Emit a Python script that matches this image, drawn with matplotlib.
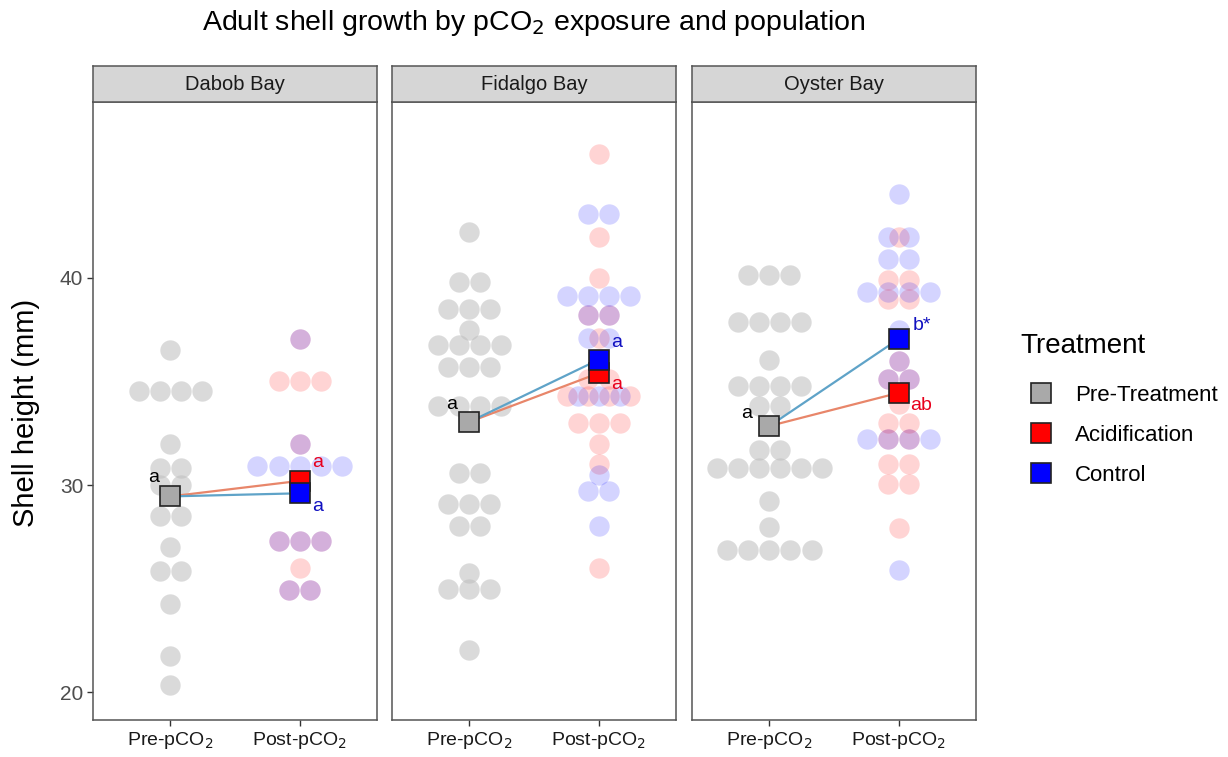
import numpy as np
import matplotlib.pyplot as plt
from matplotlib.lines import Line2D

plt.rcParams['font.family'] = ['Liberation Sans', 'DejaVu Sans']

populations = ['Dabob Bay', 'Fidalgo Bay', 'Oyster Bay']
timepoints = ['Pre-pCO$_2$', 'Post-pCO$_2$']
treatments = ['Pre-Treatment', 'Acidification', 'Control']

dabob_pre = [36.5, 34.55, 34.55, 34.55, 34.55, 32.0, 30.8, 30.8, 30.0, 30.0,
             28.5, 28.5, 27.0, 25.85, 25.85, 24.25, 21.75, 20.35]
dabob_acid = [37.05, 35.0, 35.0, 35.0, 32.0, 27.3, 27.3, 27.3, 26.0, 24.95, 24.95]
dabob_ctrl = [37.05, 32.0, 30.9, 30.9, 30.9, 30.9, 30.9, 27.3, 27.3, 27.3,
              24.95, 24.95]

fidalgo_pre = [42.2, 39.8, 39.8, 38.5, 38.5, 38.5, 37.5, 36.75, 36.75, 36.75,
               36.75, 35.7, 35.7, 35.7, 33.8, 33.8, 33.8, 33.8, 30.6, 30.6,
               29.1, 29.1, 29.1, 28.0, 28.0, 25.75, 25.0, 25.0, 25.0, 22.05]
fidalgo_acid = [46.0, 42.0, 40.0, 38.2, 38.2, 37.1, 35.1, 35.1, 34.3, 34.3,
                34.3, 34.3, 33.0, 33.0, 33.0, 32.0, 31.0, 26.0]
fidalgo_ctrl = [43.1, 43.1, 39.15, 39.15, 39.15, 39.15, 38.2, 38.2, 37.1, 37.1,
                34.3, 34.3, 34.3, 30.5, 29.7, 29.7, 28.0]

oyster_pre = [40.15, 40.15, 40.15, 37.85, 37.85, 37.85, 37.85, 36.05, 34.8, 34.8,
              34.8, 34.8, 33.8, 33.8, 31.7, 31.7, 30.8, 30.8, 30.8, 30.8,
              30.8, 30.8, 29.25, 27.95, 26.85, 26.85, 26.85, 26.85, 26.85]
oyster_acid = [42.0, 39.9, 39.9, 39.0, 39.0, 36.0, 35.1, 35.1, 33.9, 33.0,
               33.0, 32.2, 32.2, 31.0, 31.0, 30.05, 30.05, 27.9]
oyster_ctrl = [44.05, 42.0, 42.0, 40.9, 40.9, 39.3, 39.3, 39.3, 39.3, 37.5,
               36.0, 35.1, 35.1, 32.2, 32.2, 32.2, 32.2, 25.9]

pre_values = [dabob_pre, fidalgo_pre, oyster_pre]
acid_values = [dabob_acid, fidalgo_acid, oyster_acid]
ctrl_values = [dabob_ctrl, fidalgo_ctrl, oyster_ctrl]

# group means (squares)
pre_means = [29.45, 33.05, 32.85]
acid_means = [30.2, 35.4, 34.45]
ctrl_means = [29.6, 36.05, 37.05]

# significance letters
pre_letters = ['a', 'a', 'a']
acid_letters = ['a', 'a', 'ab']
ctrl_letters = ['a', 'a', 'b*']

# pixel offsets of the letters from their squares
pre_off = [(-17, 19), (-18, 17), (-23, 13)]
acid_off = [(13, 18), (13, -11), (12, -13)]
ctrl_off = [(13, -13), (13, 17), (14, 14)]

W, H = 1228, 757
lefts = [93, 392, 692]
pw = 284

fill = {'Pre-Treatment': '#a9a9a9', 'Acidification': '#ff0000', 'Control': '#0000ff'}


def dotplot(ax, values, xpos, color, alpha, step=0.163):
    # stack equal values side by side, centred on xpos
    levels, counts = np.unique(values, return_counts=True)
    for y, n in zip(levels, counts):
        xs = xpos + (np.arange(n) - (n - 1) / 2) * step
        ax.scatter(xs, np.full(n, y), s=215, color=color, alpha=alpha,
                   linewidths=0, zorder=2)


fig = plt.figure(figsize=(W / 100, H / 100), dpi=100)

for i, pop in enumerate(populations):
    ax = fig.add_axes([lefts[i] / W, 1 - 720 / H, pw / W, 618 / H])
    strip = fig.add_axes([lefts[i] / W, 1 - 102 / H, pw / W, 36 / H])

    dotplot(ax, pre_values[i], 1, '#bdbdbd', 0.55)
    dotplot(ax, acid_values[i], 2, '#ff0000', 0.17)
    dotplot(ax, ctrl_values[i], 2, '#0000ff', 0.17)

    # lines from pre mean to each post mean
    ax.plot([1, 2], [pre_means[i], acid_means[i]], color='#e8866a', lw=1.6, zorder=3)
    ax.plot([1, 2], [pre_means[i], ctrl_means[i]], color='#5fa3c8', lw=1.6, zorder=3)

    ax.plot(1, pre_means[i], 's', ms=15, mfc=fill['Pre-Treatment'], mec='#222222', mew=1.2, zorder=4)
    ax.plot(2, acid_means[i], 's', ms=15, mfc=fill['Acidification'], mec='#222222', mew=1.2, zorder=4)
    ax.plot(2, ctrl_means[i], 's', ms=15, mfc=fill['Control'], mec='#222222', mew=1.2, zorder=4)

    ax.annotate(pre_letters[i], (1, pre_means[i]), xytext=pre_off[i],
                textcoords='offset pixels', ha='center', va='center',
                fontsize=14, color='black', zorder=5)
    ax.annotate(acid_letters[i], (2, acid_means[i]), xytext=acid_off[i],
                textcoords='offset pixels', ha='left', va='center',
                fontsize=14, color='#e8001c', zorder=5)
    ax.annotate(ctrl_letters[i], (2, ctrl_means[i]), xytext=ctrl_off[i],
                textcoords='offset pixels', ha='left', va='center',
                fontsize=14, color='#1010c0', zorder=5)

    ax.set_xlim(0.4, 2.6)
    ax.set_ylim(18.65, 48.5)
    ax.set_xticks([1, 2])
    ax.set_xticklabels(timepoints, fontsize=14, color='#1a1a1a')
    ax.set_yticks([20, 30, 40])
    ax.tick_params(length=4, width=1, color='#333333', pad=3)
    ax.tick_params(axis='y', labelsize=15, labelcolor='#4d4d4d')
    if i > 0:
        ax.tick_params(axis='y', left=False, labelleft=False)
    for sp in ax.spines.values():
        sp.set_color('#555555')
        sp.set_linewidth(1.1)

    strip.set_facecolor('#d6d6d6')
    strip.set_xticks([])
    strip.set_yticks([])
    for sp in strip.spines.values():
        sp.set_color('#555555')
        sp.set_linewidth(1.1)
    strip.text(0.5, 0.5, pop, ha='center', va='center', fontsize=14.5,
               color='#1a1a1a', transform=strip.transAxes)

fig.text(534 / W, 1 - 23 / H, 'Adult shell growth by pCO$_2$ exposure and population',
         ha='center', va='center', fontsize=20.5)
fig.text(26 / W, 1 - 413 / H, 'Shell height (mm)', rotation=90,
         ha='center', va='center', fontsize=21)

# legend: title drawn on its own so it sits flush left like ggplot's
fig.text(1020 / W, 1 - 346 / H, 'Treatment', ha='left', va='center', fontsize=20)
handles = [Line2D([], [], ls='none', marker='s', ms=14, mfc=fill[t],
                  mec='#222222', mew=1.2) for t in treatments]
fig.legend(handles, treatments, loc='upper left',
           bbox_to_anchor=(1008 / W, 1 - 365 / H), frameon=False,
           fontsize=16, labelspacing=0.85, handletextpad=0.9, handlelength=1.2)

fig.savefig('out.png', dpi=100)
